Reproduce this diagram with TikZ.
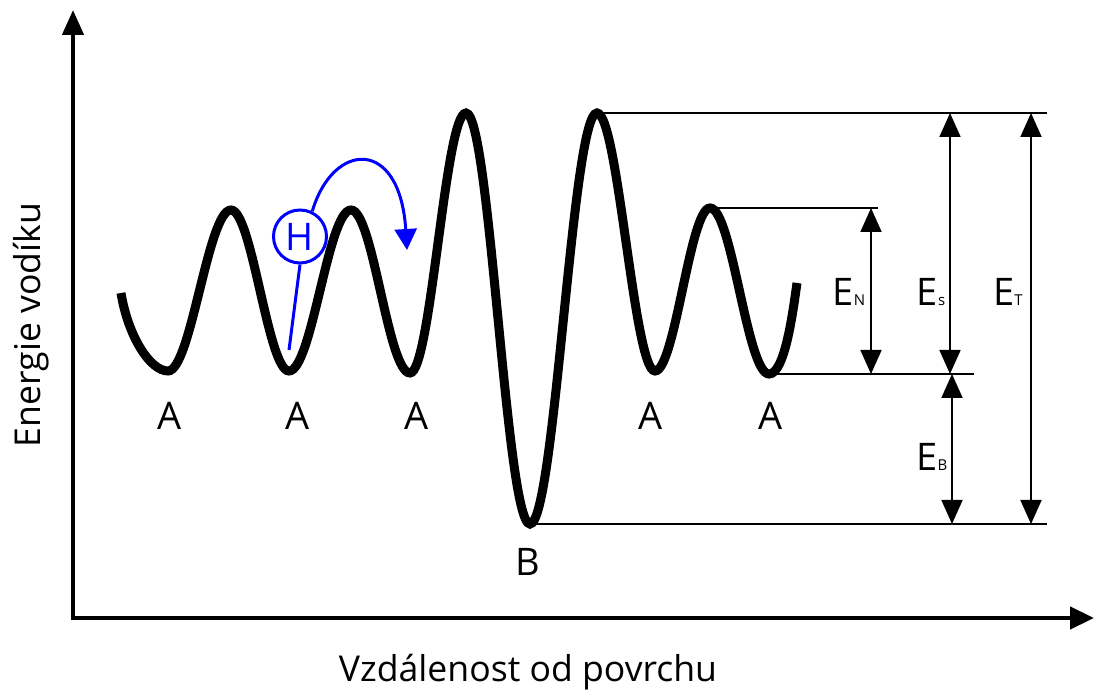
\documentclass[tikz,border=0pt]{standalone}
\usepackage{fontspec}
\setmainfont{Open Sans}
\usetikzlibrary{arrows.meta}
\newcommand{\bigtxt}{\fontsize{38}{42}\selectfont}
\newcommand{\subtxt}{\fontsize{15}{17}\selectfont}
\newcommand{\axtxt}{\fontsize{35.6}{40}\selectfont}

\begin{document}
\begin{tikzpicture}[x=1pt,y=1pt,
  axis/.style={line width=4.5pt,{Triangle[length=25pt,width=21pt]}-{Triangle[length=24pt,width=22pt]}},
  well/.style={line width=9pt},
  level/.style={line width=1.8pt},
  gap/.style={line width=1.8pt,{Triangle[length=24pt,width=21pt]}-{Triangle[length=24pt,width=21pt]}},
  hop/.style={blue,line width=3pt}]
  \useasboundingbox (0,0) rectangle (1095,691);
  % axes
  \coordinate (ytip) at (73,681);
  \coordinate (O) at (73,73);
  \coordinate (xtip) at (1094,73);
  \draw[axis] (ytip) -- (O) -- (xtip);
  \node[rotate=90,anchor=base] (ylab) at (40,366) {\axtxt Energie vodíku};
  \node[anchor=base] (xlab) at (528,10) {\axtxt Vzdálenost od povrchu};
  % potential curve
  \coordinate (b) at (530,167);
  \coordinate (p4) at (597,578);
  \coordinate (p5) at (710,483);
  \coordinate (a5) at (769,317);
  \draw[well] (121,398)
    .. controls (128,355) and (150,320) .. (168,320)
    .. controls (191,320) and (208,481) .. (231,481)
    .. controls (252,481) and (268,320) .. (289,320)
    .. controls (312,320) and (328,481) .. (351,481)
    .. controls (373,481) and (388,318) .. (410,318)
    .. controls (431,318) and (445,578) .. (466,578)
    .. controls (490,578) and (506,167) .. (b)
    .. controls (555,167) and (572,578) .. (p4)
    .. controls (618,578) and (634,320) .. (655,320)
    .. controls (675,320) and (690,483) .. (p5)
    .. controls (732,483) and (747,317) .. (a5)
    .. controls (785,317) and (793,380) .. (797,408);
  \foreach \x [count=\i] in {170,298,417,651,771}
    \node (A\i) at (\x,275) {\bigtxt A};
  \node (B) at (528,129) {\bigtxt B};
  % hydrogen hop
  \node[circle,draw=blue,line width=3pt,minimum size=53pt,inner sep=0pt,text=blue] (H) at (300,454.5) {\bigtxt H};
  \coordinate (hfoot) at (289,341);
  \coordinate (hland) at (407,441);
  \draw[hop] (H.south) -- (hfoot);
  \draw[hop,-{Triangle[length=21pt,width=22pt]}] (H.64) .. controls (333,550) and (400,554) .. (hland);
  % energy levels
  \coordinate (topR) at (1047,578);
  \coordinate (nR) at (878,483);
  \coordinate (midR) at (974,317);
  \coordinate (botR) at (1047,167);
  \draw[level] (p4) -- (topR);
  \draw[level] (p5) -- (nR);
  \draw[level] (a5) -- (midR);
  \draw[level] (b) -- (botR);
  \coordinate (n1) at (871,483);
  \coordinate (n2) at (871,317);
  \coordinate (s1) at (950,578);
  \coordinate (s2) at (950,317);
  \coordinate (b1) at (952,317);
  \coordinate (b2) at (952,167);
  \coordinate (t1) at (1031,578);
  \coordinate (t2) at (1031,167);
  \draw[gap] (n1) -- (n2);
  \draw[gap] (s1) -- (s2);
  \draw[gap] (b1) -- (b2);
  \draw[gap] (t1) -- (t2);
  \node (EN) at (849,399) {\bigtxt E{\subtxt N}};
  \node (ES) at (931,399) {\bigtxt E{\subtxt s}};
  \node (ET) at (1008,399) {\bigtxt E{\subtxt T}};
  \node (EB) at (932,234) {\bigtxt E{\subtxt B}};
\end{tikzpicture}
\end{document}
